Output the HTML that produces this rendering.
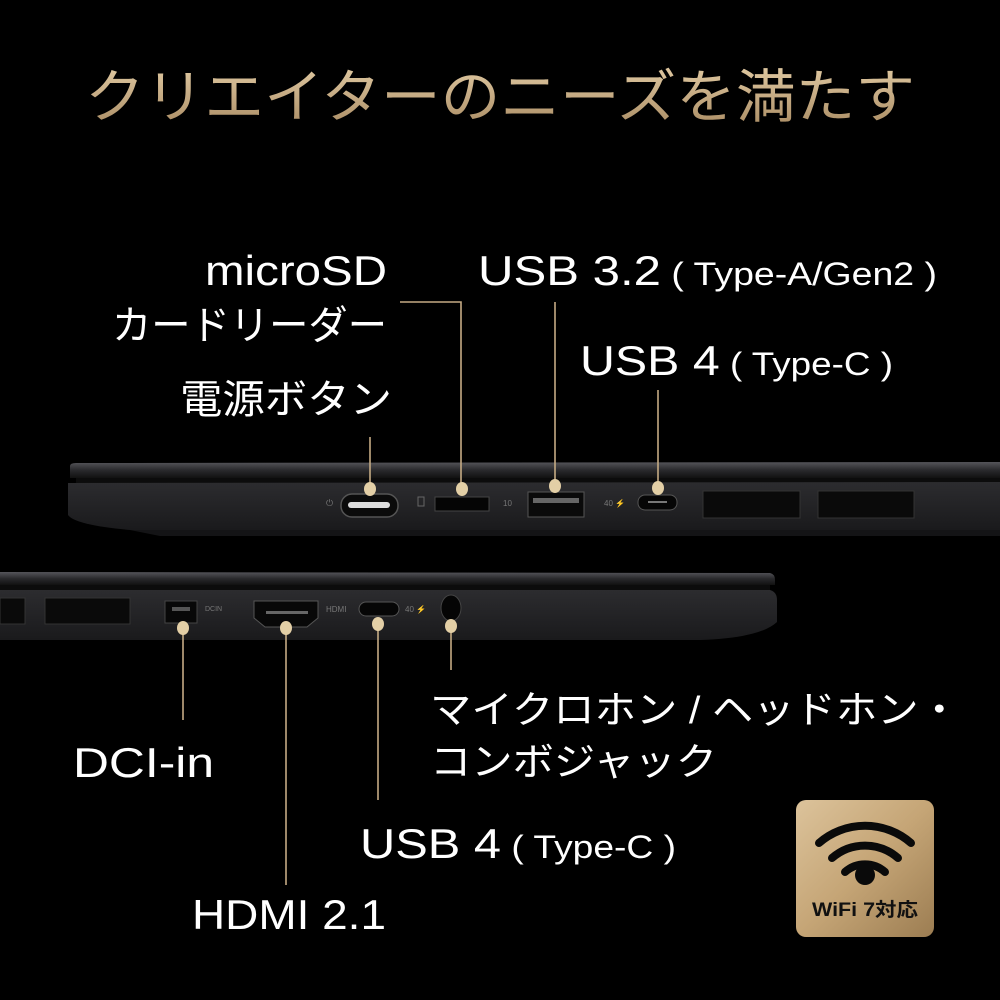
<!DOCTYPE html>
<html><head><meta charset="utf-8"><style>
html,body{margin:0;padding:0;background:#000;}
svg{display:block}
text{font-family:"Liberation Sans","Noto Sans CJK JP",sans-serif;fill:#fff}
</style></head><body>
<svg width="1000" height="1000" viewBox="0 0 1000 1000" xmlns="http://www.w3.org/2000/svg">
<defs>
<linearGradient id="gold" x1="0" y1="0" x2="0" y2="1"><stop offset="0" stop-color="#e0c9a2"/><stop offset="1" stop-color="#a88a62"/></linearGradient>
<linearGradient id="badge" x1="0" y1="0" x2="1" y2="1"><stop offset="0" stop-color="#dcc39b"/><stop offset="0.5" stop-color="#c5a576"/><stop offset="1" stop-color="#9c7d52"/></linearGradient>
<linearGradient id="lid" x1="0" y1="0" x2="0" y2="1"><stop offset="0" stop-color="#55555a"/><stop offset="0.5" stop-color="#2a2a2d"/><stop offset="1" stop-color="#111"/></linearGradient>
<linearGradient id="body" x1="0" y1="0" x2="0" y2="1"><stop offset="0" stop-color="#2c2c2f"/><stop offset="1" stop-color="#1a1a1c"/></linearGradient>
</defs>
<rect width="1000" height="1000" fill="#000"/>
<text x="85" y="117" font-size="58" textLength="830" lengthAdjust="spacingAndGlyphs" style="fill:url(#gold)">クリエイターのニーズを満たす</text>

<!-- top laptop -->
<path d="M70 466 Q70 463 76 463 L1000 462 L1000 478 L70 478 Z" fill="url(#lid)"/>
<rect x="76" y="478" width="924" height="5" fill="#0c0c0c"/>
<path d="M68 483 L1000 482 L1000 530 L130 530 Q75 525 68 515 Z" fill="url(#body)"/>
<path d="M130 530 L1000 530 L1000 536 L160 536 Z" fill="#141416"/>
<rect x="341" y="494" width="57" height="23" rx="11" fill="#0b0b0b" stroke="#555" stroke-width="1.5"/>
<rect x="348" y="502" width="42" height="6" rx="3" fill="#ddd"/>
<text x="326" y="506" font-size="9" style="fill:#777">⏻</text>
<rect x="418" y="497" width="6" height="9" fill="none" stroke="#666"/>
<rect x="435" y="497" width="54" height="14" fill="#050505" stroke="#444"/>
<text x="503" y="506" font-size="8" style="fill:#777">10</text>
<rect x="528" y="492" width="56" height="25" fill="#0a0a0a" stroke="#555"/>
<rect x="533" y="498" width="46" height="5" fill="#666"/>
<text x="604" y="506" font-size="8" style="fill:#777">40 ⚡</text>
<rect x="638" y="495" width="39" height="15" rx="7" fill="#060606" stroke="#555"/>
<rect x="648" y="501" width="19" height="2" fill="#777"/>
<rect x="703" y="491" width="97" height="27" fill="#0a0a0a" stroke="#333"/>
<rect x="818" y="491" width="96" height="27" fill="#0a0a0a" stroke="#333"/>

<!-- bottom laptop -->
<path d="M0 572 L770 573 Q775 574 775 580 L775 585 L0 585 Z" fill="url(#lid)"/>
<rect x="0" y="585" width="770" height="5" fill="#0c0c0c"/>
<path d="M0 590 L770 590 Q777 592 777 600 L777 622 Q760 638 700 640 L0 640 Z" fill="url(#body)"/>
<rect x="0" y="598" width="25" height="26" fill="#0a0a0a" stroke="#333"/>
<rect x="45" y="598" width="85" height="26" fill="#0a0a0a" stroke="#333"/>
<rect x="165" y="601" width="32" height="22" fill="#080808" stroke="#444"/>
<rect x="172" y="607" width="18" height="4" fill="#555"/>
<text x="205" y="611" font-size="7" style="fill:#777">DCIN</text>
<path d="M254 601 L318 601 L318 618 L307 627 L265 627 L254 618 Z" fill="#080808" stroke="#555"/>
<rect x="266" y="611" width="42" height="3" fill="#666"/>
<text x="326" y="612" font-size="8" style="fill:#777">HDMI</text>
<rect x="359" y="602" width="40" height="14" rx="7" fill="#060606" stroke="#555"/>
<text x="405" y="612" font-size="8" style="fill:#777">40 ⚡</text>
<ellipse cx="451" cy="608" rx="10" ry="13" fill="#050505" stroke="#444"/>

<!-- connectors -->
<g stroke="#c5ab84" stroke-width="1.6" fill="none">
<path d="M400 302 L461 302 L461 488"/>
<line x1="370" y1="437" x2="370" y2="488"/>
<line x1="555" y1="302" x2="555" y2="486"/>
<line x1="658" y1="390" x2="658" y2="488"/>
<line x1="183" y1="628" x2="183" y2="720"/>
<line x1="286" y1="628" x2="286" y2="885"/>
<line x1="378" y1="622" x2="378" y2="800"/>
<line x1="451" y1="625" x2="451" y2="670"/>
</g>
<g fill="#e3cfa6">
<ellipse cx="370" cy="489" rx="6" ry="7"/>
<ellipse cx="462" cy="489" rx="6" ry="7"/>
<ellipse cx="555" cy="486" rx="6" ry="7"/>
<ellipse cx="658" cy="488" rx="6" ry="7"/>
<ellipse cx="183" cy="628" rx="6" ry="7"/>
<ellipse cx="286" cy="628" rx="6" ry="7"/>
<ellipse cx="378" cy="624" rx="6" ry="7"/>
<ellipse cx="451" cy="626" rx="6" ry="7"/>
</g>

<!-- labels -->
<text x="205" y="285" font-size="42" textLength="182" lengthAdjust="spacingAndGlyphs">microSD</text>
<text x="112" y="339" font-size="40" textLength="275" lengthAdjust="spacingAndGlyphs">カードリーダー</text>
<text x="180" y="413" font-size="40" textLength="212" lengthAdjust="spacingAndGlyphs">電源ボタン</text>
<text x="478" y="285" font-size="42" textLength="459" lengthAdjust="spacingAndGlyphs">USB 3.2<tspan font-size="32"> ( Type-A/Gen2 )</tspan></text>
<text x="580" y="375" font-size="42" textLength="313" lengthAdjust="spacingAndGlyphs">USB 4<tspan font-size="32"> ( Type-C )</tspan></text>
<text x="430" y="723" font-size="38" textLength="530" lengthAdjust="spacingAndGlyphs">マイクロホン / ヘッドホン・</text>
<text x="430" y="775" font-size="38" textLength="287" lengthAdjust="spacingAndGlyphs">コンボジャック</text>
<text x="73" y="777" font-size="42" textLength="141" lengthAdjust="spacingAndGlyphs">DCI-in</text>
<text x="360" y="858" font-size="42" textLength="316" lengthAdjust="spacingAndGlyphs">USB 4<tspan font-size="32"> ( Type-C )</tspan></text>
<text x="192" y="929" font-size="42" textLength="194" lengthAdjust="spacingAndGlyphs">HDMI 2.1</text>

<!-- wifi badge -->
<rect x="796" y="800" width="138" height="137" rx="10" fill="url(#badge)"/>
<g stroke="#0a0a0a" stroke-width="8" fill="none" stroke-linecap="round">
<path d="M819 843 A70 70 0 0 1 911 843"/>
<path d="M832 858 A50 50 0 0 1 898 858"/>
<path d="M845 872 A30 30 0 0 1 885 872"/>
</g>
<circle cx="865" cy="875" r="10" fill="#0a0a0a"/>
<text x="812" y="916" font-size="19" font-weight="bold" style="fill:#111" textLength="106" lengthAdjust="spacingAndGlyphs">WiFi 7対応</text>
</svg>
</body></html>
